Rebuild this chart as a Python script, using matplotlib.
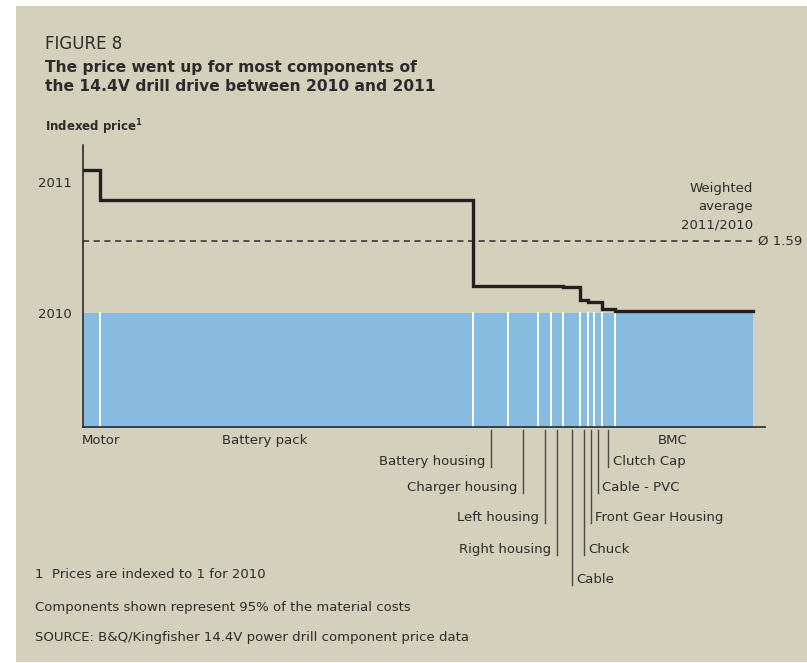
import numpy as np
import matplotlib.pyplot as plt
from matplotlib.patches import Rectangle

components = ['Motor', 'Battery pack', 'Battery housing', 'Charger housing',
              'Left housing', 'Right housing', 'Cable', 'Chuck',
              'Front Gear Housing', 'Cable - PVC', 'Clutch Cap', 'BMC']
# share of material cost (%)
shares = [2.5, 55.7, 5.2, 4.5, 1.9, 1.8, 2.5, 1.2, 0.9, 1.2, 1.9, 20.6]
# price 2011 indexed to 2010 = 1
prices = [2.17, 1.93, 1.22, 1.22, 1.22, 1.22, 1.21, 1.11, 1.09, 1.09, 1.03, 1.02]
weighted_avg = 1.59

BG = '#d3d0bb'
BLUE = '#87bce0'
TXT = '#2b2b2b'

plt.rcParams['font.family'] = ['DejaVu Sans']
plt.rcParams['mathtext.fontset'] = 'dejavusans'

W, H = 807, 663
fig = plt.figure(figsize=(W / 100, H / 100), dpi=100, facecolor='white')
fig.patches.append(Rectangle((16 / W, 1 / H), 1, 1 - 7 / H, transform=fig.transFigure,
                             facecolor=BG, edgecolor='none', zorder=-10))


def px(x, y):
    return x / W, 1 - y / H


ax = fig.add_axes([83 / W, 1 - 427 / H, 682 / W, 282 / H])
ax.set_facecolor('none')

edges = np.concatenate([[0], np.cumsum(shares)])
total = edges[-1]
ax.set_xlim(0, total * 682 / 670)
ax.set_ylim(0.0656, 2.377)

# blue base area with white separators
ax.fill_between([0, total], 0, 1, color=BLUE, lw=0, zorder=1)
for e in edges[1:-1]:
    ax.plot([e, e], [0, 1], color='white', lw=1.4, zorder=2)

# step line of 2011 prices
xs = np.repeat(edges, 2)[1:-1]
ys = np.repeat(prices, 2)
ax.plot(xs, ys, color='#231f20', lw=2.4, solid_joinstyle='miter', zorder=3)

# weighted average
ax.plot([0, total], [weighted_avg, weighted_avg], color='#2b2b2b', lw=1.1,
        ls=(0, (4, 3)), zorder=2)
ax.text(total, 1.67, 'Weighted\naverage\n2011/2010', ha='right', va='bottom',
        fontsize=9.5, color=TXT, linespacing=1.5)
ax.text(total + 0.7, weighted_avg, 'Ø 1.59', ha='left', va='center',
        fontsize=9.5, color=TXT)

for s in ['top', 'right']:
    ax.spines[s].set_visible(False)
for s in ['left', 'bottom']:
    ax.spines[s].set_color('#2b2b2b')
    ax.spines[s].set_linewidth(1.2)
ax.set_xticks([])
ax.set_yticks([1.0, 2.07])
ax.set_yticklabels(['2010', '2011'], fontsize=9.5, color=TXT)
ax.tick_params(axis='y', length=0, pad=8)

mids = (edges[:-1] + edges[1:]) / 2
trans = ax.get_xaxis_transform()

# labels directly under the axis (pixel nudges as in the original)
under = [('Motor', 7), ('Battery pack', -16), ('BMC', -8)]
for name, dx in under:
    i = components.index(name)
    ax.annotate(name, (mids[i], 0), xycoords=trans, xytext=(dx, -5),
                textcoords='offset points', ha='center', va='top', fontsize=9.5,
                color=TXT, annotation_clip=False)

# leader-line labels: (name, bottom y pixel, side)
leaders = [('Battery housing', 467, 'left'), ('Charger housing', 493, 'left'),
           ('Left housing', 523, 'left'), ('Right housing', 555, 'left'),
           ('Cable', 585, 'right'), ('Chuck', 555, 'right'),
           ('Front Gear Housing', 523, 'right'), ('Cable - PVC', 493, 'right'),
           ('Clutch Cap', 467, 'right')]
y0 = -3 / 282
for name, ybot, side in leaders:
    i = components.index(name)
    xm = mids[i]
    y1 = -(ybot - 427) / 282
    ax.plot([xm, xm], [y0, y1], transform=trans, color='#4a4a4a', lw=1.0,
            clip_on=False)
    if side == 'left':
        ax.annotate(name, (xm, y1), xycoords=trans, xytext=(-4, -1),
                    textcoords='offset points', ha='right', va='bottom',
                    fontsize=9.5, color=TXT, annotation_clip=False)
    else:
        ax.annotate(name, (xm, y1), xycoords=trans, xytext=(3, -1),
                    textcoords='offset points', ha='left', va='bottom',
                    fontsize=9.5, color=TXT, annotation_clip=False)

# titles
fig.text(*px(45, 44), 'FIGURE 8', fontsize=12, color=TXT, va='center')
fig.text(*px(45, 77), 'The price went up for most components of\nthe 14.4V drill drive between 2010 and 2011',
         fontsize=11.2, fontweight='bold', color=TXT, va='center', linespacing=1.35)
fig.text(*px(45, 127), r'Indexed price$^{\mathbf{1}}$', fontsize=8.5, fontweight='bold',
         color=TXT, va='center')

# footnotes
fig.text(*px(35, 575), '1  Prices are indexed to 1 for 2010', fontsize=9.5, color=TXT, va='center')
fig.text(*px(35, 607), 'Components shown represent 95% of the material costs', fontsize=9.5,
         color=TXT, va='center')
fig.text(*px(35, 638), 'SOURCE: B&Q/Kingfisher 14.4V power drill component price data',
         fontsize=9.5, color=TXT, va='center')

fig.savefig('out.png', dpi=100, facecolor=fig.get_facecolor())
